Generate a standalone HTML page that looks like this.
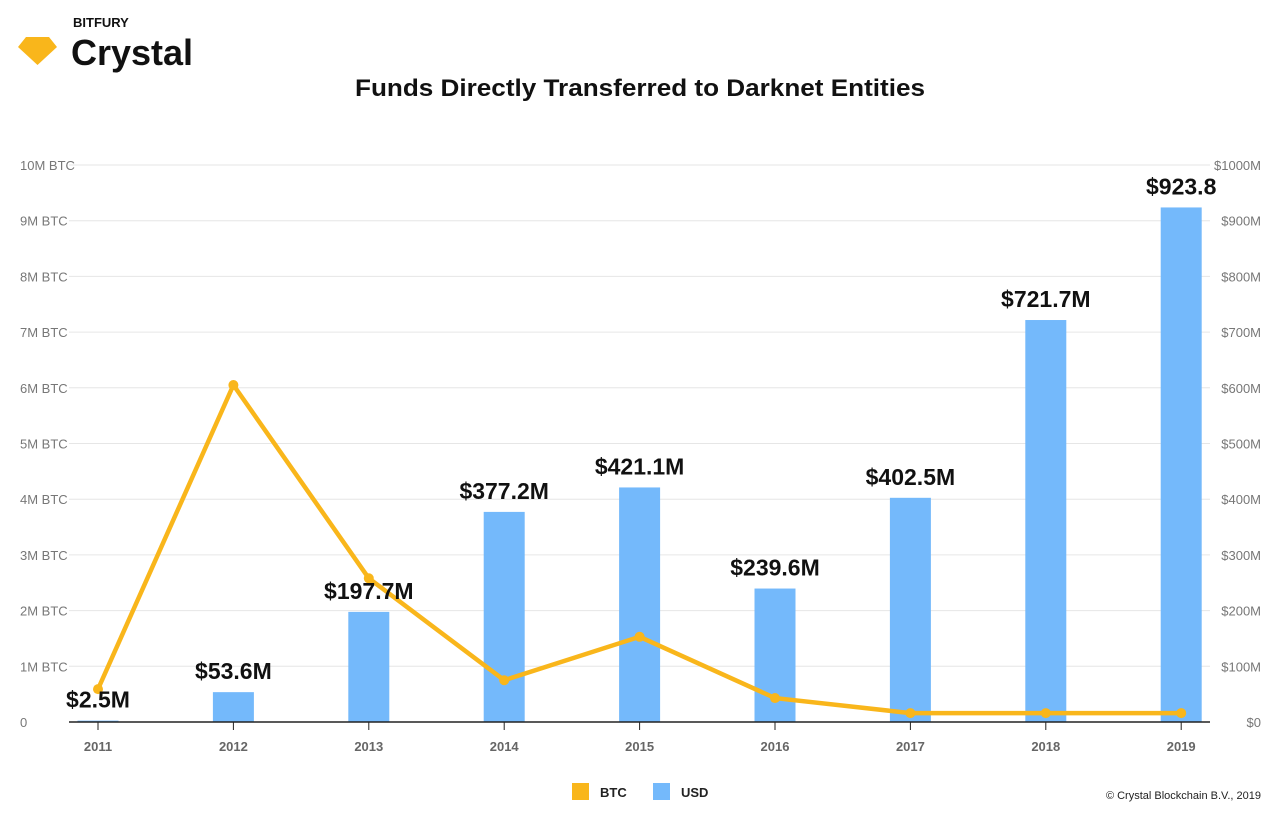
<!DOCTYPE html>
<html><head><meta charset="utf-8"><style>
html,body{margin:0;padding:0;background:#fff;width:1280px;height:819px;overflow:hidden}
svg text{font-family:"Liberation Sans",sans-serif}
</style></head><body>
<svg id="chart" width="1280" height="819">
<g>
<polygon points="18,47 26,37 49,37 57,47 37.5,65" fill="#f9b61b"/>
<text x="73" y="27" font-size="13" font-weight="bold" fill="#111">BITFURY</text>
<text x="71" y="65" font-size="36" font-weight="bold" fill="#111">Crystal</text>
</g>
<text x="640" y="96" text-anchor="middle" font-size="24" font-weight="bold" fill="#111" textLength="570" lengthAdjust="spacingAndGlyphs">Funds Directly Transferred to Darknet Entities</text>
<g id="grid"></g><g id="bars"></g><g id="line"></g><g id="labels"></g>
<g>
<rect x="572" y="783" width="17" height="17" fill="#f9b61b"/>
<text x="600" y="797" font-size="13" font-weight="bold" fill="#222">BTC</text>
<rect x="653" y="783" width="17" height="17" fill="#74b9fb"/>
<text x="681" y="797" font-size="13" font-weight="bold" fill="#222">USD</text>
</g>
<text x="1261" y="799" text-anchor="end" font-size="11" fill="#222">© Crystal Blockchain B.V., 2019</text>
</svg>
<script>
const years=["2011","2012","2013","2014","2015","2016","2017","2018","2019"];
const usd=[2.5,53.6,197.7,377.2,421.1,239.6,402.5,721.7,923.8];
const usdLabels=["$2.5M","$53.6M","$197.7M","$377.2M","$421.1M","$239.6M","$402.5M","$721.7M","$923.8"];
const btc=[0.59,6.05,2.58,0.75,1.53,0.43,0.16,0.16,0.16];
const leftTicks=[0,1,2,3,4,5,6,7,8,9,10];
const NS="http://www.w3.org/2000/svg";
const y0=722,yTop=165,xL=69,xR=1210;
const yB=v=>y0-(v/10)*(y0-yTop);
const yU=v=>y0-(v/1000)*(y0-yTop);
const xC=i=>98+i*135.4;
function mk(t,a,p){const e=document.createElementNS(NS,t);for(const k in a)e.setAttribute(k,a[k]);p.appendChild(e);return e;}
const grid=document.getElementById('grid');
leftTicks.forEach(t=>{
 const y=yB(t);
 if(t>0){const l=mk('line',{x1:xL,x2:xR,y1:y,y2:y,stroke:'#e6e6e6','stroke-width':1},grid);
 
 }
 const a=mk('text',{x:20,y:y+5,'font-size':13,fill:'#777'},grid);a.textContent=t===0?'0':t+'M BTC';
 
 
 const b=mk('text',{x:1261,y:y+5,'font-size':13,fill:'#777','text-anchor':'end'},grid);b.textContent='$'+(t*100)+(t===0?'':'M');
 
 
});
const bars=document.getElementById('bars');
usd.forEach((v,i)=>{
 const r=mk('rect',{x:xC(i)-20.5,y:yU(v),width:41,height:y0-yU(v),fill:'#74b9fb'},bars);
 
 
});
const ax=mk('line',{x1:xL,x2:xR,y1:y0,y2:y0,stroke:'#222','stroke-width':1.5},bars);


years.forEach((yr,i)=>{
 const tk=mk('line',{x1:xC(i),x2:xC(i),y1:y0,y2:y0+8,stroke:'#222'},bars);
 
 
 const t=mk('text',{x:xC(i),y:751,'font-size':13,fill:'#666','font-weight':'bold','text-anchor':'middle'},bars);t.textContent=yr;
 
 
});
const lg=document.getElementById('line');
const pl=mk('polyline',{points:btc.map((v,i)=>xC(i)+','+yB(v)).join(' '),fill:'none',stroke:'#f9b61b','stroke-width':4.5,'stroke-linejoin':'round'},lg);


btc.forEach((v,i)=>{const c=mk('circle',{cx:xC(i),cy:yB(v),r:5,fill:'#f9b61b'},lg);
 
 });
const lb=document.getElementById('labels');
usd.forEach((v,i)=>{const t=mk('text',{x:xC(i),y:yU(v)-13,'font-size':23,'font-weight':'bold',fill:'#111','text-anchor':'middle'},lb);t.textContent=usdLabels[i];
 
 });
</script>
</body></html>
